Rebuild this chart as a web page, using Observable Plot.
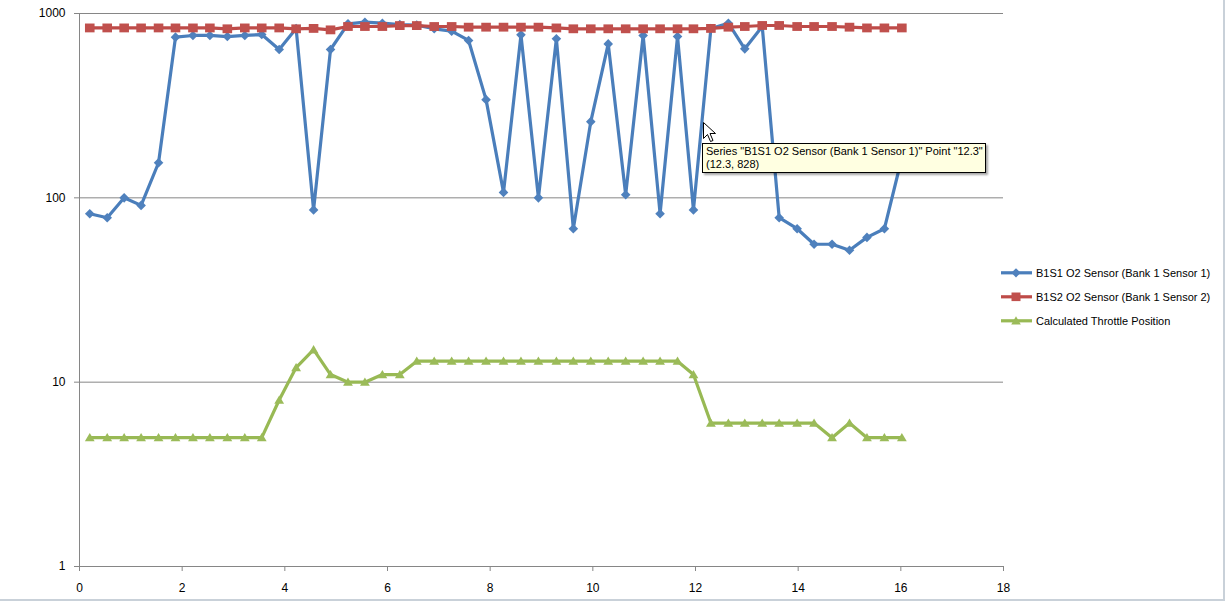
<!DOCTYPE html>
<html><head><meta charset="utf-8">
<script src="https://cdn.jsdelivr.net/npm/d3@7"></script>
<script src="https://cdn.jsdelivr.net/npm/@observablehq/plot@0.6"></script>
<style>
body{margin:0;background:#fff;font-family:"Liberation Sans",Arial,sans-serif;}
#wrap{position:relative;width:1228px;height:605px;overflow:hidden;background:#fff;}
#frame{position:absolute;left:-2px;top:-2px;width:1227px;height:603px;border-right:2px solid #c9d1d9;border-bottom:2px solid #c9d1d9;box-sizing:border-box;pointer-events:none;}
#legend{position:absolute;left:1000px;top:261px;font-size:11px;color:#000;}
#legend .row{height:24px;display:flex;align-items:center;white-space:nowrap;}
#legend svg{margin-right:3px;}
#tip{position:absolute;left:702px;top:143px;width:279px;height:27px;background:#ffffe1;border:1px solid #000;box-shadow:2px 2px 2px rgba(0,0,0,0.35);font-size:11px;line-height:12.5px;padding:1px 0 0 3px;box-sizing:content-box;white-space:nowrap;color:#000;}
#cursor{position:absolute;left:703px;top:122px;}
</style></head><body>
<div id="wrap"><div id="frame"></div></div>
<script>
// ---- data ----
const times = [0.20,0.54,0.87,1.20,1.54,1.87,2.21,2.54,2.88,3.22,3.55,3.89,4.22,4.56,4.89,5.23,5.56,5.90,6.24,6.57,
  6.91,7.25,7.58,7.92,8.26,8.60,8.94,9.29,9.62,9.96,10.30,10.64,10.98,11.31,11.65,11.96,12.30,12.64,12.96,13.30,
  13.63,13.98,14.31,14.66,15.00,15.34,15.68,16.02];
const b1s1 = [82,78,100,91,155,744,760,760,750,760,769,638,828,86,638,879,897,886,870,865,
  826,802,714,341,107,766,100,729,68,259,684,104,760,82,750,86,828,886,643,850,
  78,68,56,56,52,61,68,165];
const b1s2 = [835,835,835,835,835,835,835,835,826,835,835,835,826,830,815,850,850,850,860,860,
  850,850,843,843,843,843,843,835,826,826,826,826,826,826,826,826,830,843,850,861,
  861,850,850,850,843,835,835,835];
const throttle = [5,5,5,5,5,5,5,5,5,5,5,8,12,15,11,10,10,11,11,13,
  13,13,13,13,13,13,13,13,13,13,13,13,13,13,13,11,6,6,6,6,
  6,6,6,5,6,5,5,5];
const seriesNames = ["B1S1 O2 Sensor (Bank 1 Sensor 1)","B1S2 O2 Sensor (Bank 1 Sensor 2)","Calculated Throttle Position"];
const lineColors = ["#4a7ebb","#be4b48","#98b954"];
const markColors = ["#4f81bd","#c0504d","#9bbb59"];
const xTicks = [0,2,4,6,8,10,12,14,16,18];
const yTicks = [1,10,100,1000];
const tipLines = ['Series "B1S1 O2 Sensor (Bank 1 Sensor 1)" Point "12.3"', '(12.3, 828)'];

// ---- symbols ----
const diamondSym = {draw(c, size){const h = Math.sqrt(size/Math.PI); c.moveTo(0,-h); c.lineTo(h,0); c.lineTo(0,h); c.lineTo(-h,0); c.closePath();}};
const squareSym = {draw(c, size){const h = Math.sqrt(size/Math.PI); c.rect(-h,-h*0.92,2*h,1.84*h);}};
const triangleSym = {draw(c, size){const h = Math.sqrt(size/Math.PI); c.moveTo(0,-h*0.95); c.lineTo(h,h*0.75); c.lineTo(-h,h*0.75); c.closePath();}};
const symbols = [diamondSym, squareSym, triangleSym];
const radii = [4.8, 4.8, 4.9];

const allSeries = [b1s1, b1s2, throttle];
const rows = allSeries.map((vals, s) => times.map((t, i) => ({t, v: vals[i], s: seriesNames[s]})));

const marks = [
  Plot.ruleY(yTicks.slice(1), {stroke: "#868686", strokeWidth: 1}),
  Plot.ruleY([1], {stroke: "#868686", strokeWidth: 1}),
  Plot.ruleX([0], {y1: 1, y2: 1000, stroke: "#868686", strokeWidth: 1}),
  Plot.axisX({ticks: xTicks, tickSize: 5, tickPadding: 12, stroke: "#868686", fill: "#000", tickFormat: d3.format("d"), label: null}),
  Plot.axisY({ticks: yTicks, tickSize: 5, tickPadding: 9, stroke: "#868686", fill: "#000", tickFormat: d3.format("d"), label: null})
];
rows.forEach((r, s) => {
  marks.push(Plot.line(r, {x: "t", y: "v", stroke: lineColors[s], strokeWidth: 3.2, strokeLinejoin: "round", strokeLinecap: "round"}));
  marks.push(Plot.dot(r, {x: "t", y: "v", symbol: symbols[s], r: radii[s], fill: markColors[s], stroke: "none"}));
});

const chart = Plot.plot({
  width: 1228, height: 605,
  marginLeft: 79, marginRight: 225, marginTop: 13, marginBottom: 39,
  style: {fontFamily: '"Liberation Sans", Arial, sans-serif', fontSize: "12px", background: "transparent", color: "#000"},
  x: {domain: [0, 18]},
  y: {type: "log", domain: [1, 1000]},
  marks
});
const wrap = document.getElementById("wrap");
wrap.insertBefore(chart, wrap.firstChild);

// ---- legend ----
const legend = document.createElement("div");
legend.id = "legend";
const shapeSvg = ["M16,0.2 L20.6,4.8 L16,9.4 L11.4,4.8 Z", "M11.5,0.5 L20.5,0.5 L20.5,9.1 L11.5,9.1 Z", "M16,0.3 L20.8,8.5 L11.2,8.5 Z"];
seriesNames.forEach((name, i) => {
  const row = document.createElement("div");
  row.className = "row";
  row.innerHTML = `<svg width="33" height="10" viewBox="0 0 33 10"><line x1="1" y1="4.8" x2="32" y2="4.8" stroke="${lineColors[i]}" stroke-width="3.2"/><path d="${shapeSvg[i]}" fill="${markColors[i]}"/></svg><span>${name}</span>`;
  legend.appendChild(row);
});
wrap.appendChild(legend);

// ---- tooltip + cursor ----
const cur = document.createElement("div");
cur.id = "cursor";
cur.innerHTML = '<svg width="14" height="22"><path d="M0.5,0.5 L0.5,16.5 L4.5,12.5 L7.5,19.5 L10,18.5 L7,11.5 L12.5,11.5 Z" fill="#fff" stroke="#000" stroke-width="1"/></svg>';
wrap.appendChild(cur);
const tip = document.createElement("div");
tip.id = "tip";
tip.innerHTML = tipLines.map(l => `<div>${l.replace(/"/g, "&quot;")}</div>`).join("");
wrap.appendChild(tip);
</script>
</body></html>
